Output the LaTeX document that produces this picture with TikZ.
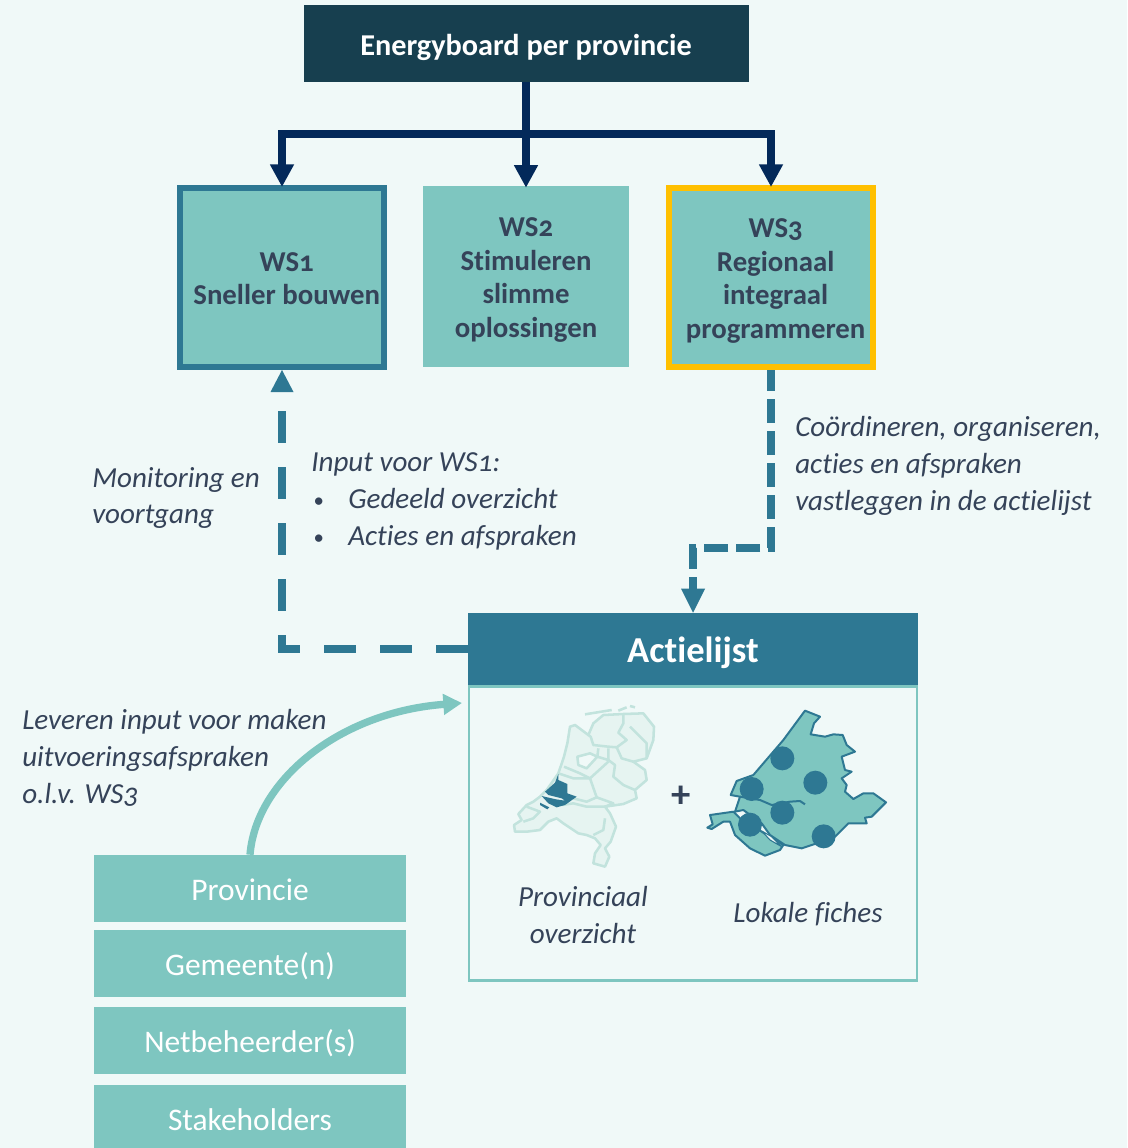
\documentclass[tikz,border=0pt]{standalone}
\usepackage{fontspec}
\setmainfont{Carlito}[Numbers=OldStyle,Ligatures=NoCommon]
\usetikzlibrary{arrows.meta}

\definecolor{pagebg}{HTML}{F0F9F8}
\definecolor{boardfill}{HTML}{173F4F}
\definecolor{navyline}{HTML}{03295A}
\definecolor{tealdark}{HTML}{2E7893}
\definecolor{teallight}{HTML}{7EC6C0}
\definecolor{goldline}{HTML}{FFC000}
\definecolor{inktext}{HTML}{354359}
\definecolor{mapfill}{HTML}{E6F4F1}
\definecolor{mapline}{HTML}{C2E3DD}

\newcommand\wslines[2]{\raisebox{0pt}[\dimexpr\height+5.5pt\relax][\depth]{\begin{tabular}{@{\hspace{#1}}c@{}}#2\end{tabular}}}
\newcommand\notebullet{\makebox[27.75pt][l]{\hspace{1.5pt}\raisebox{.6pt}{\scalebox{.72}{\textbullet}}}}

\tikzset{
    wsbox/.style={fill=teallight, text=inktext, inner sep=0pt, font=\fontsize{21.6}{25.2}\selectfont\bfseries},
    stackbox/.style={fill=teallight, text=white, minimum width=234pt, minimum height=50.25pt, inner sep=0pt, text height=17.5pt, text depth=0pt, font=\fontsize{23.6}{28}\selectfont},
    notetext/.style={anchor=west, align=left, text=inktext, inner sep=0pt, font=\fontsize{21.8}{27.5}\selectfont\itshape},
    navyarrow/.style={draw=navyline, line width=6pt, shorten >=-1.5pt, -{Triangle[length=17pt,width=17pt]}},
    dashline/.style={draw=tealdark, line width=6pt},
    dashtip/.style={fill=tealdark},
    nlborder/.style={draw=mapline, line width=1.9pt, line join=round},
    zhborder/.style={draw=tealdark, line width=1.5pt, line join=round},
}

\begin{document}
\begin{tikzpicture}[x=.75pt,y=-.75pt]

\fill[pagebg] (0,0) rectangle (1127,1148);
\useasboundingbox (0,0) rectangle (1127,1148);
\clip (0,0) rectangle (1127,1148);

% boxes
\node[fill=boardfill, text=white, minimum width=333.75pt, minimum height=57.75pt, inner sep=0pt, text height=17.5pt, text depth=0pt, font=\fontsize{22.7}{26}\selectfont\bfseries] (board) at (526,43.5) {Energyboard per provincie};
\node[wsbox, draw=tealdark, line width=4.5pt, minimum width=153pt, minimum height=134.25pt] (ws1) at (282,277.5) {\wslines{7pt}{WS1\\Sneller bouwen}};
\node[wsbox, minimum width=154.5pt, minimum height=135.75pt] (ws2) at (526,276.5) {\wslines{0pt}{WS2\\Stimuleren\\slimme\\oplossingen}};
\node[wsbox, draw=goldline, line width=4.5pt, minimum width=153pt, minimum height=134.25pt] (ws3) at (771,277.5) {\wslines{7pt}{WS3\\Regionaal\\integraal\\programmeren}};
\node[draw=teallight, line width=2.2pt, minimum width=336pt, minimum height=221pt, inner sep=0pt] (actiebody) at (693,833.5) {};
\node[fill=tealdark, text=white, minimum width=337.5pt, minimum height=54pt, inner sep=0pt, text height=20.5pt, text depth=0pt, font=\fontsize{27.4}{30}\selectfont\bfseries] (actie) at (693,649) {Actielijst};

\foreach \stackname/\stacky/\stacktext in {prov/888.5/Provincie, gem/963.5/Gemeente(n), net/1040.5/Netbeheerder(s), stake/1118.5/Stakeholders}
    \node[stackbox] (\stackname) at (250,\stacky) {\stacktext};

% connectors
\coordinate (split) at (526,134);
\draw[draw=navyline, line width=6pt] (board.south) -- (split);
\draw[navyarrow] (split) -| (ws1.north);
\draw[navyarrow] (split) -- (ws2.north);
\draw[navyarrow] (split) -| (ws3.north);

\coordinate (ws1tip) at (282,410);
\draw[dashline, dash pattern=on 24pt off 18pt] (actie.west) -| (ws1tip);
\fill[dashtip] (ws1.south) -- ++(11.5,22) -- ++(-23,0) -- cycle;

\coordinate (actiebend) at (693,548);
\coordinate (actietip) at (693,592);
\draw[dashline, dash pattern=on 18pt off 6pt, dash phase=2.25pt] (ws3.south) |- (actiebend) -- (actietip);
\fill[dashtip] (actie.north) -- ++(-12,-24) -- ++(24,0) -- cycle;

\coordinate (curveend) at (462,703);
\draw[draw=teallight, line width=5.5pt, -{Triangle[length=14pt,width=15pt]}] (prov.north) .. controls (256,780) and (340,712) .. (curveend);

% labels
\node[notetext] (monitor) at (92,498) {Monitoring en\\voortgang};
\node[notetext] (inputws) at (311,501) {Input voor WS1:\\[.5pt]\notebullet Gedeeld overzicht\\\notebullet Acties en afspraken};
\node[notetext] (coord) at (795,466) {Coördineren, organiseren,\\acties en afspraken\\vastleggen in de actielijst};
\node[notetext] (leveren) at (22,758) {Leveren input voor maken\\uitvoeringsafspraken\\o.l.v. WS3};
\node[notetext, anchor=center, align=center] (provov) at (583,915) {Provinciaal\\overzicht};
\node[notetext, anchor=center] (fiches) at (808,914) {Lokale fiches};
\node[text=inktext, inner sep=0pt, font=\fontsize{29}{30}\selectfont\bfseries] (plus) at (681,797) {+};

% map of the country
\begin{scope}[shift={(490,690)}, x=.25pt, y=-.25pt]
    \filldraw[nlborder, fill=mapfill] (240,110) -- (232,160) -- (222,200) -- (205,250) -- (170,300) -- (150,320) -- (130,335) -- (110,345) -- (85,372) -- (95,390) -- (72,405) -- (75,425) -- (110,425) -- (150,420) -- (175,395) -- (200,385) -- (220,400) -- (265,430) -- (290,435) -- (315,445) -- (332,465) -- (315,490) -- (310,520) -- (345,530) -- (358,500) -- (345,475) -- (362,455) -- (378,410) -- (360,370) -- (345,350) -- (400,342) -- (440,325) -- (435,300) -- (470,270) -- (465,240) -- (430,215) -- (470,205) -- (490,150) -- (492,110) -- (460,70) -- (400,72) -- (340,75) -- (310,100) -- (295,135) -- (255,105) -- cycle;
    \draw[nlborder] (285,73) -- (365,60);
    \draw[nlborder] (385,62) -- (410,52);
    \draw[nlborder] (420,48) -- (435,52);
    \draw[nlborder] (400,72) -- (400,100) -- (385,128) -- (410,150) -- (380,172) -- (355,170) -- (310,165) -- (302,140) -- (295,135);
    \draw[nlborder] (420,110) -- (470,160) -- (470,205);
    \draw[nlborder] (380,172) -- (395,205) -- (430,215);
    \draw[nlborder] (325,175) -- (322,200) -- (355,210) -- (355,175);
    \draw[nlborder, fill=pagebg] (262,200) -- (300,190) -- (322,200) -- (290,235) -- (265,225) -- cycle;
    \draw[nlborder] (355,210) -- (375,225) -- (370,260) -- (400,285) -- (435,300);
    \draw[nlborder] (222,230) -- (270,250) -- (300,265) -- (355,215);
    \draw[nlborder] (205,250) -- (250,265) -- (300,265) -- (320,322) -- (290,335) -- (250,325);
    \draw[nlborder] (320,322) -- (370,340) -- (345,350);
    \draw[nlborder] (215,345) -- (250,340) -- (290,350) -- (345,350);
    \draw[nlborder] (345,385) -- (340,420) -- (310,435);
    \draw[nlborder] (110,350) -- (150,365) -- (130,385) -- (100,395);
    \fill[tealdark] (205,252) -- (195,278) -- (165,305) -- (175,315) -- (215,325) -- (225,332) -- (198,328) -- (172,322) -- (155,318) -- (175,340) -- (200,352) -- (225,345) -- (260,320) -- (232,310) -- (232,282) -- (205,270) -- cycle;
    \fill[tealdark] (150,338) -- (178,352) -- (172,358) -- (150,345) -- cycle;
\end{scope}

% map of the province
\begin{scope}[shift={(690,695)}, x=.25pt, y=-.25pt]
    \filldraw[zhborder, fill=teallight] (345,47) -- (390,65) -- (372,85) -- (362,118) -- (405,125) -- (430,118) -- (458,120) -- (470,150) -- (495,170) -- (455,185) -- (465,225) -- (485,230) -- (455,250) -- (470,270) -- (465,290) -- (490,312) -- (520,295) -- (550,295) -- (588,322) -- (545,365) -- (525,368) -- (530,385) -- (475,385) -- (435,425) -- (380,445) -- (335,460) -- (285,450) -- (240,420) -- (215,385) -- (160,345) -- (135,350) -- (150,305) -- (122,300) -- (140,258) -- (190,240) -- (280,135) -- cycle;
    \filldraw[zhborder, fill=teallight] (60,360) -- (130,350) -- (150,370) -- (215,410) -- (280,450) -- (270,465) -- (225,482) -- (180,460) -- (135,420) -- (120,380) -- (100,380) -- (65,402) -- (52,398) -- (68,388) -- cycle;
    \draw[zhborder] (150,305) -- (210,315) -- (245,330) -- (300,320) -- (330,318) -- (345,328);
    \filldraw[zhborder, line width=.8pt, fill=pagebg] (215,408) -- (245,425) -- (275,455) -- (240,435) -- cycle;
    \foreach \dotx/\doty in {277/190, 376/263, 185/282, 277/353, 180/389, 401/424}
        \fill[tealdark] (\dotx,\doty) circle (36);
\end{scope}

\end{tikzpicture}
\end{document}
